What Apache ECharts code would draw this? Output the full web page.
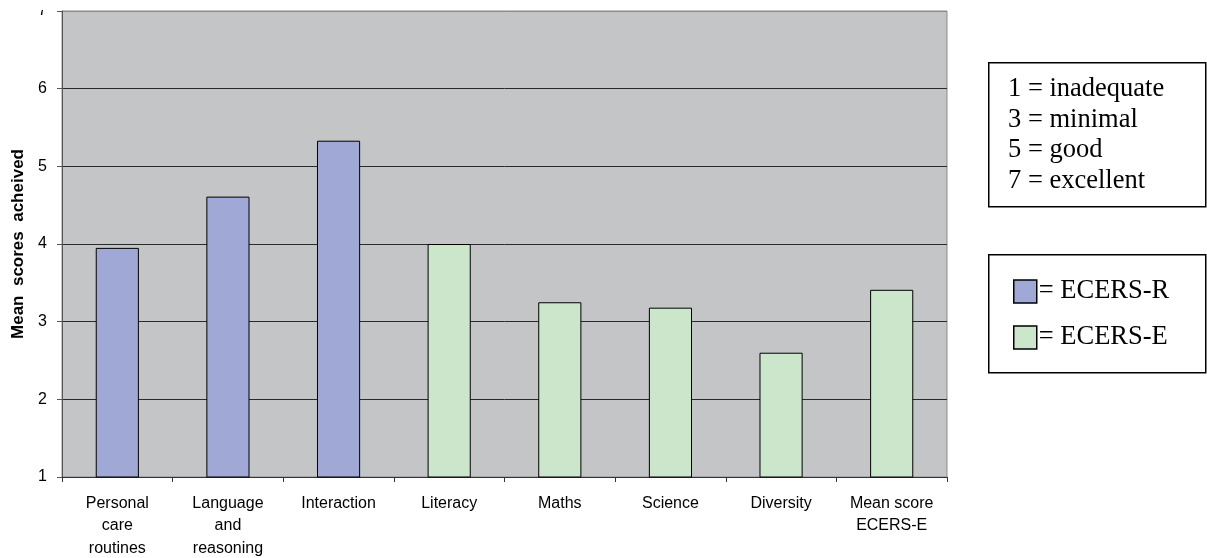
<!DOCTYPE html>
<html>
<head>
<meta charset="utf-8">
<script src="https://cdn.jsdelivr.net/npm/echarts@6/dist/echarts.min.js"></script>
<style>
  html, body { margin: 0; padding: 0; background: #fff; }
  #chart { width: 1207px; height: 558px; }
</style>
</head>
<body>
<div id="chart"></div>
<script>
// Mean ECERS subscale scores
const categories = [
  'Personal\ncare\nroutines',
  'Language\nand\nreasoning',
  'Interaction',
  'Literacy',
  'Maths',
  'Science',
  'Diversity',
  'Mean score\nECERS-E'
];
const scores = [3.95, 4.61, 5.33, 4.0, 3.25, 3.18, 2.6, 3.41];
const scale = ['ECERS-R', 'ECERS-R', 'ECERS-R', 'ECERS-E', 'ECERS-E', 'ECERS-E', 'ECERS-E', 'ECERS-E'];
const scaleNames = ['ECERS-R', 'ECERS-E'];
const scaleColors = ['#A0A8D6', '#CCE6CC'];
const keyLines = ['1 = inadequate', '3 = minimal', '5 = good', '7 = excellent'];

const SANS = '"Liberation Sans", Arial, sans-serif';
const SERIF = '"Liberation Serif", "Times New Roman", serif';

const series = scaleNames.map((name, k) => ({
  name: name,
  type: 'bar',
  stack: 'score',
  barWidth: '39%',
  itemStyle: { color: scaleColors[k], borderColor: '#000', borderWidth: 1 },
  data: scores.map((v, i) => (scale[i] === name ? v : '-'))
}));

const chart = echarts.init(document.getElementById('chart'), null, { renderer: 'canvas' });
chart.setOption({
  animation: false,
  grid: {
    left: 62, right: 260, top: 11, bottom: 81,
    outerBoundsMode: 'none',
    containLabel: false,
    show: true, backgroundColor: '#C4C5C7', borderColor: '#8a8a8a', borderWidth: 1
  },
  xAxis: {
    type: 'category',
    data: categories,
    axisLine: { lineStyle: { color: '#333', width: 1 } },
    axisTick: { show: true, length: 5, alignWithLabel: false, lineStyle: { color: '#333' } },
    axisLabel: {
      interval: 0, margin: 15, color: '#000',
      fontFamily: SANS, fontSize: 16, lineHeight: 22.5
    }
  },
  yAxis: {
    type: 'value',
    min: 1, max: 7, interval: 1,
    name: 'Mean  scores  acheived',
    nameLocation: 'middle',
    nameRotate: 90,
    nameGap: 35,
    nameTextStyle: { fontFamily: SANS, fontSize: 17, fontWeight: 'bold', color: '#000' },
    axisLine: { show: true, lineStyle: { color: '#555', width: 1 } },
    axisTick: { show: true, length: 5, lineStyle: { color: '#555' } },
    axisLabel: { margin: 15, color: '#000', fontFamily: SANS, fontSize: 16 },
    splitLine: {
      show: true,
      lineStyle: { color: ['#2a2a2a', '#2a2a2a', '#2a2a2a', '#2a2a2a', '#2a2a2a', '#2a2a2a', '#8a8a8a'], width: 1 }
    }
  },
  legend: {
    orient: 'vertical',
    left: 1013, top: 278,
    padding: 0,
    itemWidth: 23, itemHeight: 23, itemGap: 19,
    icon: 'rect',
    selectedMode: false,
    data: scaleNames,
    formatter: name => '= ' + name,
    itemStyle: { borderColor: '#000', borderWidth: 1.5 },
    textStyle: { fontFamily: SERIF, fontSize: 26.5, color: '#000', padding: [0, 0, 0, -3] }
  },
  graphic: [
    // clipped strip above the top of the value axis
    {
      type: 'rect', left: 0, top: 0, z: 100,
      shape: { width: 60, height: 10 },
      style: { fill: '#fff' }
    },
    {
      type: 'rect', left: 988, top: 62, z: 0,
      shape: { width: 217, height: 144 },
      style: { fill: '#fff', stroke: '#000', lineWidth: 1.5 }
    },
    {
      type: 'text', left: 1008, top: 74, z: 1,
      style: {
        text: keyLines.join('\n'),
        font: '26.5px ' + SERIF, lineHeight: 30.5, fill: '#000'
      }
    },
    {
      type: 'rect', left: 988, top: 254, z: 0,
      shape: { width: 217, height: 118 },
      style: { fill: '#fff', stroke: '#000', lineWidth: 1.5 }
    }
  ],
  series: series
});
</script>
</body>
</html>
